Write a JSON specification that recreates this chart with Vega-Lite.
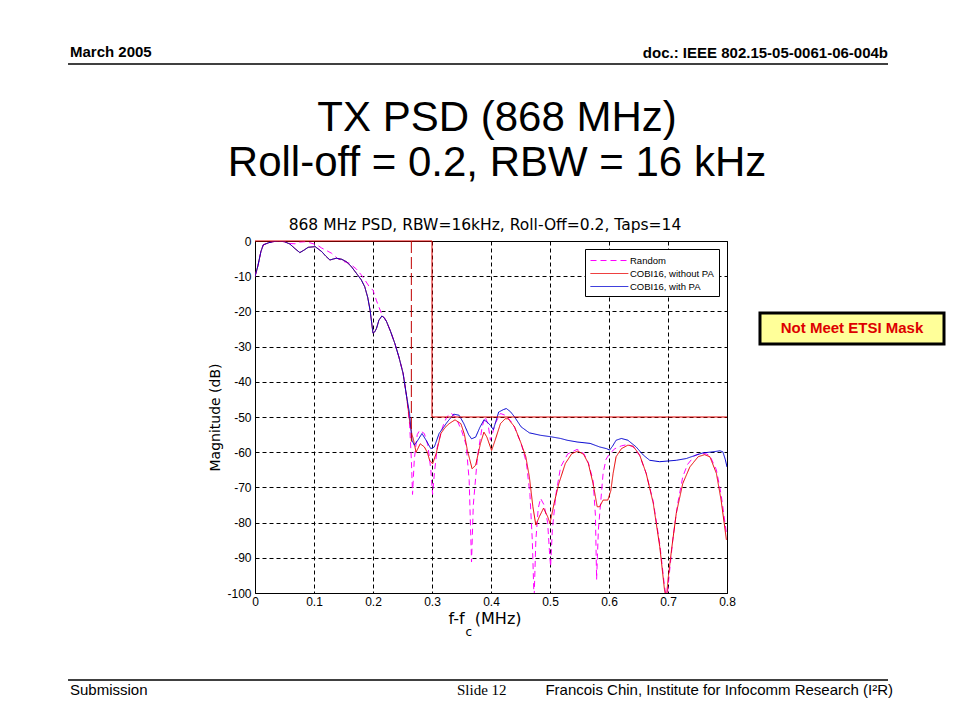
{
 "$schema": "https://vega.github.io/schema/vega-lite/v6.json",
 "width": 472,
 "height": 352,
 "autosize": {"type": "none"},
 "padding": {"left": 255, "top": 241, "right": 233, "bottom": 127},
 "background": "white",
 "config": {
  "view": {"stroke": "black", "strokeWidth": 1},
  "font": "Liberation Sans",
  "legend": {"orient": "top-right", "offset": 8, "fillColor": "white", "strokeColor": "black", "strokeWidth": 1, "padding": 5, "labelFont": "Liberation Sans", "labelFontSize": 9.5, "labelColor": "black", "symbolType": "M-1,0H5.3", "symbolSize": 144, "symbolStrokeWidth": 1, "rowPadding": 2, "labelOffset": 27, "cornerRadius": 0}
 },
 "datasets": {
  "psd": [
   {"s":"Random","f":0,"db":-10.1},{"s":"Random","f":0.005,"db":-7},{"s":"Random","f":0.01,"db":-3},{"s":"Random","f":0.014,"db":-1.1},{"s":"Random","f":0.023,"db":-0.5},{"s":"Random","f":0.03,"db":-0.2},{"s":"Random","f":0.04,"db":0},{"s":"Random","f":0.05,"db":-0.2},{"s":"Random","f":0.059,"db":-0.7},{"s":"Random","f":0.068,"db":-0.8},{"s":"Random","f":0.076,"db":-0.3},{"s":"Random","f":0.085,"db":-0.2},{"s":"Random","f":0.093,"db":-0.5},{"s":"Random","f":0.105,"db":-1.1},{"s":"Random","f":0.113,"db":-2},{"s":"Random","f":0.12,"db":-2.6},{"s":"Random","f":0.13,"db":-3.5},{"s":"Random","f":0.14,"db":-5},{"s":"Random","f":0.15,"db":-5.8},{"s":"Random","f":0.16,"db":-6.3},{"s":"Random","f":0.172,"db":-8},{"s":"Random","f":0.18,"db":-9.6},{"s":"Random","f":0.186,"db":-11},{"s":"Random","f":0.193,"db":-12.8},{"s":"Random","f":0.2,"db":-14},{"s":"Random","f":0.206,"db":-17},{"s":"Random","f":0.212,"db":-19.6},{"s":"Random","f":0.216,"db":-21.3},{"s":"Random","f":0.219,"db":-21.8},{"s":"Random","f":0.223,"db":-22.9},{"s":"Random","f":0.23,"db":-25.8},{"s":"Random","f":0.237,"db":-29.1},{"s":"Random","f":0.244,"db":-33},{"s":"Random","f":0.251,"db":-37.6},{"s":"Random","f":0.257,"db":-44.2},{"s":"Random","f":0.262,"db":-52},{"s":"Random","f":0.265,"db":-62},{"s":"Random","f":0.267,"db":-72},{"s":"Random","f":0.27,"db":-62},{"s":"Random","f":0.275,"db":-55},{"s":"Random","f":0.279,"db":-53.8},{"s":"Random","f":0.287,"db":-54.7},{"s":"Random","f":0.293,"db":-58},{"s":"Random","f":0.298,"db":-65},{"s":"Random","f":0.301,"db":-72},{"s":"Random","f":0.304,"db":-66},{"s":"Random","f":0.309,"db":-58.5},{"s":"Random","f":0.318,"db":-52.8},{"s":"Random","f":0.325,"db":-50},{"s":"Random","f":0.332,"db":-48.9},{"s":"Random","f":0.34,"db":-50},{"s":"Random","f":0.35,"db":-53.8},{"s":"Random","f":0.358,"db":-58},{"s":"Random","f":0.363,"db":-68},{"s":"Random","f":0.367,"db":-91.2},{"s":"Random","f":0.37,"db":-75},{"s":"Random","f":0.377,"db":-61.4},{"s":"Random","f":0.385,"db":-52.8},{"s":"Random","f":0.39,"db":-50},{"s":"Random","f":0.395,"db":-52},{"s":"Random","f":0.399,"db":-56.6},{"s":"Random","f":0.402,"db":-55},{"s":"Random","f":0.407,"db":-51.9},{"s":"Random","f":0.416,"db":-49},{"s":"Random","f":0.424,"db":-49.5},{"s":"Random","f":0.433,"db":-51},{"s":"Random","f":0.44,"db":-53},{"s":"Random","f":0.451,"db":-57.5},{"s":"Random","f":0.46,"db":-63},{"s":"Random","f":0.466,"db":-72},{"s":"Random","f":0.47,"db":-85},{"s":"Random","f":0.473,"db":-102},{"s":"Random","f":0.476,"db":-85},{"s":"Random","f":0.48,"db":-76},{"s":"Random","f":0.484,"db":-73.1},{"s":"Random","f":0.49,"db":-75},{"s":"Random","f":0.496,"db":-80},{"s":"Random","f":0.499,"db":-88},{"s":"Random","f":0.501,"db":-92.5},{"s":"Random","f":0.504,"db":-82},{"s":"Random","f":0.51,"db":-72},{"s":"Random","f":0.518,"db":-64.2},{"s":"Random","f":0.53,"db":-60.5},{"s":"Random","f":0.546,"db":-59.2},{"s":"Random","f":0.557,"db":-60.3},{"s":"Random","f":0.565,"db":-63},{"s":"Random","f":0.573,"db":-68},{"s":"Random","f":0.577,"db":-78},{"s":"Random","f":0.579,"db":-96.2},{"s":"Random","f":0.582,"db":-82},{"s":"Random","f":0.586,"db":-74},{"s":"Random","f":0.59,"db":-66},{"s":"Random","f":0.595,"db":-62},{"s":"Random","f":0.601,"db":-60.4},{"s":"Random","f":0.61,"db":-59},{"s":"Random","f":0.621,"db":-58.2},{"s":"Random","f":0.632,"db":-57.8},{"s":"Random","f":0.641,"db":-58.5},{"s":"Random","f":0.652,"db":-61},{"s":"Random","f":0.663,"db":-66},{"s":"Random","f":0.675,"db":-74},{"s":"Random","f":0.686,"db":-86},{"s":"Random","f":0.694,"db":-98},{"s":"Random","f":0.698,"db":-102},{"s":"Random","f":0.702,"db":-95},{"s":"Random","f":0.708,"db":-85},{"s":"Random","f":0.716,"db":-75},{"s":"Random","f":0.725,"db":-67},{"s":"Random","f":0.733,"db":-63.5},{"s":"Random","f":0.745,"db":-61},{"s":"Random","f":0.755,"db":-60.3},{"s":"Random","f":0.765,"db":-60.5},{"s":"Random","f":0.771,"db":-61},{"s":"Random","f":0.782,"db":-65},{"s":"Random","f":0.79,"db":-72},{"s":"Random","f":0.799,"db":-83},

   {"s":"COBI16, without PA","f":0,"db":-10.1},{"s":"COBI16, without PA","f":0.005,"db":-7},{"s":"COBI16, without PA","f":0.01,"db":-3},{"s":"COBI16, without PA","f":0.014,"db":-1.1},{"s":"COBI16, without PA","f":0.023,"db":-0.5},{"s":"COBI16, without PA","f":0.03,"db":-0.2},{"s":"COBI16, without PA","f":0.04,"db":0},{"s":"COBI16, without PA","f":0.05,"db":-0.2},{"s":"COBI16, without PA","f":0.059,"db":-0.85},{"s":"COBI16, without PA","f":0.068,"db":-2.2},{"s":"COBI16, without PA","f":0.076,"db":-3.3},{"s":"COBI16, without PA","f":0.083,"db":-2.6},{"s":"COBI16, without PA","f":0.09,"db":-1.8},{"s":"COBI16, without PA","f":0.102,"db":-1.6},{"s":"COBI16, without PA","f":0.113,"db":-3},{"s":"COBI16, without PA","f":0.12,"db":-4.3},{"s":"COBI16, without PA","f":0.127,"db":-5.4},{"s":"COBI16, without PA","f":0.133,"db":-5.1},{"s":"COBI16, without PA","f":0.138,"db":-4.9},{"s":"COBI16, without PA","f":0.147,"db":-5.2},{"s":"COBI16, without PA","f":0.155,"db":-5.9},{"s":"COBI16, without PA","f":0.163,"db":-7.2},{"s":"COBI16, without PA","f":0.172,"db":-9.2},{"s":"COBI16, without PA","f":0.18,"db":-11},{"s":"COBI16, without PA","f":0.186,"db":-13},{"s":"COBI16, without PA","f":0.191,"db":-16},{"s":"COBI16, without PA","f":0.195,"db":-19.6},{"s":"COBI16, without PA","f":0.2,"db":-26.2},{"s":"COBI16, without PA","f":0.203,"db":-25.8},{"s":"COBI16, without PA","f":0.206,"db":-24.8},{"s":"COBI16, without PA","f":0.21,"db":-22.5},{"s":"COBI16, without PA","f":0.215,"db":-21.3},{"s":"COBI16, without PA","f":0.219,"db":-21.8},{"s":"COBI16, without PA","f":0.223,"db":-22.9},{"s":"COBI16, without PA","f":0.23,"db":-25.8},{"s":"COBI16, without PA","f":0.237,"db":-29.1},{"s":"COBI16, without PA","f":0.244,"db":-33},{"s":"COBI16, without PA","f":0.251,"db":-37.6},{"s":"COBI16, without PA","f":0.257,"db":-44.2},{"s":"COBI16, without PA","f":0.262,"db":-51},{"s":"COBI16, without PA","f":0.266,"db":-55},{"s":"COBI16, without PA","f":0.268,"db":-56},{"s":"COBI16, without PA","f":0.273,"db":-60},{"s":"COBI16, without PA","f":0.28,"db":-57.6},{"s":"COBI16, without PA","f":0.287,"db":-58.5},{"s":"COBI16, without PA","f":0.292,"db":-60},{"s":"COBI16, without PA","f":0.296,"db":-62.3},{"s":"COBI16, without PA","f":0.301,"db":-63.3},{"s":"COBI16, without PA","f":0.307,"db":-60.4},{"s":"COBI16, without PA","f":0.315,"db":-54.7},{"s":"COBI16, without PA","f":0.322,"db":-53},{"s":"COBI16, without PA","f":0.329,"db":-51.9},{"s":"COBI16, without PA","f":0.339,"db":-50.8},{"s":"COBI16, without PA","f":0.349,"db":-51.9},{"s":"COBI16, without PA","f":0.355,"db":-55},{"s":"COBI16, without PA","f":0.36,"db":-59.5},{"s":"COBI16, without PA","f":0.368,"db":-64.7},{"s":"COBI16, without PA","f":0.374,"db":-63.7},{"s":"COBI16, without PA","f":0.382,"db":-57.6},{"s":"COBI16, without PA","f":0.388,"db":-54.3},{"s":"COBI16, without PA","f":0.393,"db":-55.7},{"s":"COBI16, without PA","f":0.401,"db":-59.5},{"s":"COBI16, without PA","f":0.407,"db":-56.6},{"s":"COBI16, without PA","f":0.416,"db":-51.9},{"s":"COBI16, without PA","f":0.424,"db":-50.5},{"s":"COBI16, without PA","f":0.429,"db":-50.5},{"s":"COBI16, without PA","f":0.44,"db":-52.8},{"s":"COBI16, without PA","f":0.451,"db":-57.5},{"s":"COBI16, without PA","f":0.459,"db":-61.3},{"s":"COBI16, without PA","f":0.465,"db":-67},{"s":"COBI16, without PA","f":0.471,"db":-75.5},{"s":"COBI16, without PA","f":0.476,"db":-80.7},{"s":"COBI16, without PA","f":0.482,"db":-78.3},{"s":"COBI16, without PA","f":0.489,"db":-75.9},{"s":"COBI16, without PA","f":0.496,"db":-78.3},{"s":"COBI16, without PA","f":0.5,"db":-80.2},{"s":"COBI16, without PA","f":0.507,"db":-74.5},{"s":"COBI16, without PA","f":0.515,"db":-68.9},{"s":"COBI16, without PA","f":0.526,"db":-63.2},{"s":"COBI16, without PA","f":0.537,"db":-60.4},{"s":"COBI16, without PA","f":0.547,"db":-59.7},{"s":"COBI16, without PA","f":0.557,"db":-60.6},{"s":"COBI16, without PA","f":0.565,"db":-63.2},{"s":"COBI16, without PA","f":0.573,"db":-68.9},{"s":"COBI16, without PA","f":0.58,"db":-75.5},{"s":"COBI16, without PA","f":0.584,"db":-75.5},{"s":"COBI16, without PA","f":0.59,"db":-73.6},{"s":"COBI16, without PA","f":0.598,"db":-73.6},{"s":"COBI16, without PA","f":0.603,"db":-71},{"s":"COBI16, without PA","f":0.607,"db":-66},{"s":"COBI16, without PA","f":0.612,"db":-61.3},{"s":"COBI16, without PA","f":0.621,"db":-59},{"s":"COBI16, without PA","f":0.632,"db":-58},{"s":"COBI16, without PA","f":0.641,"db":-58.3},{"s":"COBI16, without PA","f":0.652,"db":-60.8},{"s":"COBI16, without PA","f":0.663,"db":-66},{"s":"COBI16, without PA","f":0.675,"db":-74.5},{"s":"COBI16, without PA","f":0.686,"db":-86.8},{"s":"COBI16, without PA","f":0.694,"db":-99},{"s":"COBI16, without PA","f":0.697,"db":-102},{"s":"COBI16, without PA","f":0.7,"db":-96.2},{"s":"COBI16, without PA","f":0.706,"db":-87.7},{"s":"COBI16, without PA","f":0.714,"db":-77.4},{"s":"COBI16, without PA","f":0.725,"db":-68.9},{"s":"COBI16, without PA","f":0.737,"db":-64.2},{"s":"COBI16, without PA","f":0.751,"db":-61.3},{"s":"COBI16, without PA","f":0.762,"db":-60.7},{"s":"COBI16, without PA","f":0.771,"db":-61.3},{"s":"COBI16, without PA","f":0.782,"db":-66},{"s":"COBI16, without PA","f":0.79,"db":-73.6},{"s":"COBI16, without PA","f":0.799,"db":-84.9},

   {"s":"COBI16, with PA","f":0,"db":-10.1},{"s":"COBI16, with PA","f":0.005,"db":-7},{"s":"COBI16, with PA","f":0.01,"db":-3},{"s":"COBI16, with PA","f":0.014,"db":-1.1},{"s":"COBI16, with PA","f":0.023,"db":-0.5},{"s":"COBI16, with PA","f":0.03,"db":-0.2},{"s":"COBI16, with PA","f":0.04,"db":0},{"s":"COBI16, with PA","f":0.05,"db":-0.2},{"s":"COBI16, with PA","f":0.059,"db":-0.85},{"s":"COBI16, with PA","f":0.068,"db":-2.2},{"s":"COBI16, with PA","f":0.076,"db":-3.3},{"s":"COBI16, with PA","f":0.083,"db":-2.6},{"s":"COBI16, with PA","f":0.09,"db":-1.8},{"s":"COBI16, with PA","f":0.102,"db":-1.6},{"s":"COBI16, with PA","f":0.113,"db":-3},{"s":"COBI16, with PA","f":0.12,"db":-4.3},{"s":"COBI16, with PA","f":0.127,"db":-5.4},{"s":"COBI16, with PA","f":0.133,"db":-5.1},{"s":"COBI16, with PA","f":0.138,"db":-4.9},{"s":"COBI16, with PA","f":0.147,"db":-5.2},{"s":"COBI16, with PA","f":0.155,"db":-5.9},{"s":"COBI16, with PA","f":0.163,"db":-7.2},{"s":"COBI16, with PA","f":0.172,"db":-9.2},{"s":"COBI16, with PA","f":0.18,"db":-11},{"s":"COBI16, with PA","f":0.186,"db":-13},{"s":"COBI16, with PA","f":0.191,"db":-16},{"s":"COBI16, with PA","f":0.195,"db":-19.6},{"s":"COBI16, with PA","f":0.2,"db":-26.2},{"s":"COBI16, with PA","f":0.203,"db":-25.8},{"s":"COBI16, with PA","f":0.206,"db":-24.8},{"s":"COBI16, with PA","f":0.21,"db":-22.5},{"s":"COBI16, with PA","f":0.215,"db":-21.3},{"s":"COBI16, with PA","f":0.219,"db":-21.8},{"s":"COBI16, with PA","f":0.223,"db":-22.9},{"s":"COBI16, with PA","f":0.23,"db":-25.8},{"s":"COBI16, with PA","f":0.237,"db":-29.1},{"s":"COBI16, with PA","f":0.244,"db":-33},{"s":"COBI16, with PA","f":0.251,"db":-37.6},{"s":"COBI16, with PA","f":0.257,"db":-44.2},{"s":"COBI16, with PA","f":0.262,"db":-49},{"s":"COBI16, with PA","f":0.266,"db":-56.6},{"s":"COBI16, with PA","f":0.27,"db":-58},{"s":"COBI16, with PA","f":0.276,"db":-56.6},{"s":"COBI16, with PA","f":0.283,"db":-54.7},{"s":"COBI16, with PA","f":0.29,"db":-56.6},{"s":"COBI16, with PA","f":0.298,"db":-59},{"s":"COBI16, with PA","f":0.304,"db":-58.5},{"s":"COBI16, with PA","f":0.312,"db":-54.7},{"s":"COBI16, with PA","f":0.326,"db":-51.4},{"s":"COBI16, with PA","f":0.337,"db":-49.2},{"s":"COBI16, with PA","f":0.346,"db":-49.5},{"s":"COBI16, with PA","f":0.354,"db":-51.9},{"s":"COBI16, with PA","f":0.362,"db":-55},{"s":"COBI16, with PA","f":0.367,"db":-56.2},{"s":"COBI16, with PA","f":0.374,"db":-55.7},{"s":"COBI16, with PA","f":0.381,"db":-53},{"s":"COBI16, with PA","f":0.388,"db":-50.8},{"s":"COBI16, with PA","f":0.394,"db":-51.5},{"s":"COBI16, with PA","f":0.399,"db":-52.4},{"s":"COBI16, with PA","f":0.404,"db":-53.6},{"s":"COBI16, with PA","f":0.413,"db":-48.6},{"s":"COBI16, with PA","f":0.421,"db":-47.9},{"s":"COBI16, with PA","f":0.426,"db":-47.6},{"s":"COBI16, with PA","f":0.433,"db":-48.5},{"s":"COBI16, with PA","f":0.44,"db":-50},{"s":"COBI16, with PA","f":0.451,"db":-52.8},{"s":"COBI16, with PA","f":0.465,"db":-54.5},{"s":"COBI16, with PA","f":0.484,"db":-55.2},{"s":"COBI16, with PA","f":0.501,"db":-55.6},{"s":"COBI16, with PA","f":0.518,"db":-56.1},{"s":"COBI16, with PA","f":0.529,"db":-56.6},{"s":"COBI16, with PA","f":0.546,"db":-57.1},{"s":"COBI16, with PA","f":0.568,"db":-57.5},{"s":"COBI16, with PA","f":0.584,"db":-58.5},{"s":"COBI16, with PA","f":0.596,"db":-59},{"s":"COBI16, with PA","f":0.601,"db":-59.4},{"s":"COBI16, with PA","f":0.606,"db":-58.3},{"s":"COBI16, with PA","f":0.612,"db":-56.6},{"s":"COBI16, with PA","f":0.621,"db":-56.1},{"s":"COBI16, with PA","f":0.632,"db":-56.6},{"s":"COBI16, with PA","f":0.646,"db":-58.5},{"s":"COBI16, with PA","f":0.658,"db":-60.8},{"s":"COBI16, with PA","f":0.669,"db":-62.3},{"s":"COBI16, with PA","f":0.686,"db":-62.7},{"s":"COBI16, with PA","f":0.7,"db":-62.5},{"s":"COBI16, with PA","f":0.714,"db":-62.3},{"s":"COBI16, with PA","f":0.731,"db":-61.8},{"s":"COBI16, with PA","f":0.748,"db":-60.8},{"s":"COBI16, with PA","f":0.759,"db":-60.2},{"s":"COBI16, with PA","f":0.776,"db":-59.9},{"s":"COBI16, with PA","f":0.788,"db":-59.6},{"s":"COBI16, with PA","f":0.793,"db":-59.9},{"s":"COBI16, with PA","f":0.797,"db":-62},{"s":"COBI16, with PA","f":0.8,"db":-64.2}
  ],
  "mask": [
   {"f":0,"f2":0.3,"db":0,"db2":0},
   {"f":0.3,"f2":0.3,"db":0,"db2":-50},
   {"f":0.3,"f2":0.8,"db":-50,"db2":-50}
  ]
 },
 "encoding": {
  "x": {"field": "f", "type": "quantitative",
   "scale": {"domain": [0, 0.8], "nice": false, "zero": false},
   "axis": {"values": [0,0.1,0.2,0.3,0.4,0.5,0.6,0.7,0.8], "labelExpr": "toString(datum.value)", "title": "f-f\u00a0\u00a0(MHz)", "titleX": 229.5, "titleFont": "DejaVu Sans", "titleFontSize": 16, "titleFontWeight": "normal", "titleColor": "black", "titlePadding": 3, "labelFont": "Liberation Sans", "labelFontSize": 12, "labelColor": "black", "labelPadding": 3, "ticks": false, "domain": false, "grid": true, "gridColor": "black", "gridOpacity": 1, "gridDash": [4, 3], "gridWidth": 1, "labelFlush": false}},
  "y": {"field": "db", "type": "quantitative",
   "scale": {"domain": [-100, 0], "nice": false, "zero": false},
   "axis": {"values": [0,-10,-20,-30,-40,-50,-60,-70,-80,-90,-100], "labelExpr": "toString(datum.value)", "title": "Magnitude (dB)", "titleFont": "DejaVu Sans", "titleFontSize": 14, "titleFontWeight": "normal", "titleColor": "black", "titlePadding": 4, "labelFont": "Liberation Sans", "labelFontSize": 12, "labelColor": "black", "labelPadding": 4, "ticks": false, "domain": false, "grid": true, "gridColor": "black", "gridOpacity": 1, "gridDash": [4, 3], "gridWidth": 1, "labelFlush": false}}
 },
 "layer": [
  {
   "data": {"name": "psd"},
   "transform": [{"filter": "datum.s === 'Random'"}],
   "mark": {"type": "line", "clip": true, "strokeWidth": 1, "interpolate": "linear"},
   "encoding": {
    "color": {"field": "s", "type": "nominal", "scale": {"domain": ["Random", "COBI16, without PA", "COBI16, with PA"], "range": ["#ff00ff", "#e80000", "#0000d0"]}, "legend": {"title": null}},
    "strokeDash": {"field": "s", "type": "nominal", "scale": {"domain": ["Random", "COBI16, without PA", "COBI16, with PA"], "range": [[6, 4], [1, 0], [1, 0]]}, "legend": {"title": null}}
   }
  },
  {
   "data": {"name": "psd"},
   "transform": [{"filter": "datum.s === 'COBI16, without PA'"}],
   "mark": {"type": "line", "clip": true, "strokeWidth": 1},
   "encoding": {
    "color": {"field": "s", "type": "nominal", "scale": {"domain": ["Random", "COBI16, without PA", "COBI16, with PA"], "range": ["#ff00ff", "#e80000", "#0000d0"]}, "legend": {"title": null}},
    "strokeDash": {"field": "s", "type": "nominal", "scale": {"domain": ["Random", "COBI16, without PA", "COBI16, with PA"], "range": [[6, 4], [1, 0], [1, 0]]}, "legend": {"title": null}}
   }
  },
  {
   "data": {"name": "psd"},
   "transform": [{"filter": "datum.s === 'COBI16, with PA'"}],
   "mark": {"type": "line", "clip": true, "strokeWidth": 1},
   "encoding": {
    "color": {"field": "s", "type": "nominal", "scale": {"domain": ["Random", "COBI16, without PA", "COBI16, with PA"], "range": ["#ff00ff", "#e80000", "#0000d0"]}, "legend": {"title": null}},
    "strokeDash": {"field": "s", "type": "nominal", "scale": {"domain": ["Random", "COBI16, without PA", "COBI16, with PA"], "range": [[6, 4], [1, 0], [1, 0]]}, "legend": {"title": null}}
   }
  },
  {
   "data": {"name": "mask"},
   "mark": {"type": "rule", "color": "#e00000", "strokeWidth": 1},
   "encoding": {"x2": {"field": "f2"}, "y2": {"field": "db2"}}
  },
  {
   "data": {"values": [{"f": 0.265, "f2": 0.265, "db": 0, "db2": -57}]},
   "mark": {"type": "rule", "color": "#c00000", "strokeWidth": 1, "strokeDash": [12, 4]},
   "encoding": {"x2": {"field": "f2"}, "y2": {"field": "db2"}}
  },
  {
   "data": {"values": [{"f": -0.3169, "f2": 1.0729, "db": 50.28, "db2": 50.28}, {"f": -0.3169, "f2": 1.0729, "db": -124.72, "db2": -124.72}]},
   "mark": {"type": "rule", "color": "black", "strokeWidth": 1.5},
   "encoding": {"x2": {"field": "f2"}, "y2": {"field": "db2"}}
  },
  {
   "data": {"values": [{"f": 0.8559, "f2": 1.1678, "db": -20.45, "db2": -29.26}]},
   "mark": {"type": "rect", "fill": "#ffff99", "stroke": "black", "strokeWidth": 3},
   "encoding": {"x2": {"field": "f2"}, "y2": {"field": "db2"}}
  },
  {
   "data": {"values": [{"f": 1.0119, "db": -24.7, "t": "Not Meet ETSI Mask"}]},
   "mark": {"type": "text", "font": "Liberation Sans", "fontSize": 15, "fontWeight": "bold", "color": "#dd0000", "align": "center", "baseline": "middle"},
   "encoding": {"text": {"field": "t"}}
  },
  {
   "data": {"values": [{"f": 0.4102, "db": 34.94, "t": "TX PSD (868 MHz)"}, {"f": 0.4102, "db": 22.16, "t": "Roll-off = 0.2, RBW = 16 kHz"}]},
   "mark": {"type": "text", "font": "Liberation Sans", "fontSize": 42, "color": "black", "align": "center", "baseline": "middle"},
   "encoding": {"text": {"field": "t"}}
  },
  {
   "data": {"values": [{"f": 0.3898, "db": 4.55, "t": "868 MHz PSD, RBW=16kHz, Roll-Off=0.2, Taps=14"}]},
   "mark": {"type": "text", "font": "DejaVu Sans", "fontSize": 15.5, "color": "black", "align": "center", "baseline": "middle"},
   "encoding": {"text": {"field": "t"}}
  },
  {
   "data": {"values": [{"f": -0.3136, "db": 53.7, "t": "March 2005"}]},
   "mark": {"type": "text", "font": "Liberation Sans", "fontSize": 15, "fontWeight": "bold", "color": "black", "align": "left", "baseline": "middle"},
   "encoding": {"text": {"field": "t"}}
  },
  {
   "data": {"values": [{"f": 1.0729, "db": 53.4, "t": "doc.: IEEE 802.15-05-0061-06-004b"}]},
   "mark": {"type": "text", "font": "Liberation Sans", "fontSize": 15, "fontWeight": "bold", "color": "black", "align": "right", "baseline": "middle"},
   "encoding": {"text": {"field": "t"}}
  },
  {
   "data": {"values": [{"f": -0.3136, "db": -127.6, "t": "Submission"}]},
   "mark": {"type": "text", "font": "Liberation Sans", "fontSize": 15, "color": "black", "align": "left", "baseline": "middle"},
   "encoding": {"text": {"field": "t"}}
  },
  {
   "data": {"values": [{"f": 0.3424, "db": -127.6, "t": "Slide 12"}]},
   "mark": {"type": "text", "font": "Liberation Serif", "fontSize": 15, "color": "black", "align": "left", "baseline": "middle"},
   "encoding": {"text": {"field": "t"}}
  },
  {
   "data": {"values": [{"f": 1.0814, "db": -127.6, "t": "Francois Chin, Institute for Infocomm Research (I²R)"}]},
   "mark": {"type": "text", "font": "Liberation Sans", "fontSize": 15, "color": "black", "align": "right", "baseline": "middle"},
   "encoding": {"text": {"field": "t"}}
  },
  {
   "data": {"values": [{"f": 0.3622, "db": -111, "t": "c"}]},
   "mark": {"type": "text", "font": "DejaVu Sans", "fontSize": 12, "color": "black", "align": "center", "baseline": "middle"},
   "encoding": {"text": {"field": "t"}}
  }
 ]
}
